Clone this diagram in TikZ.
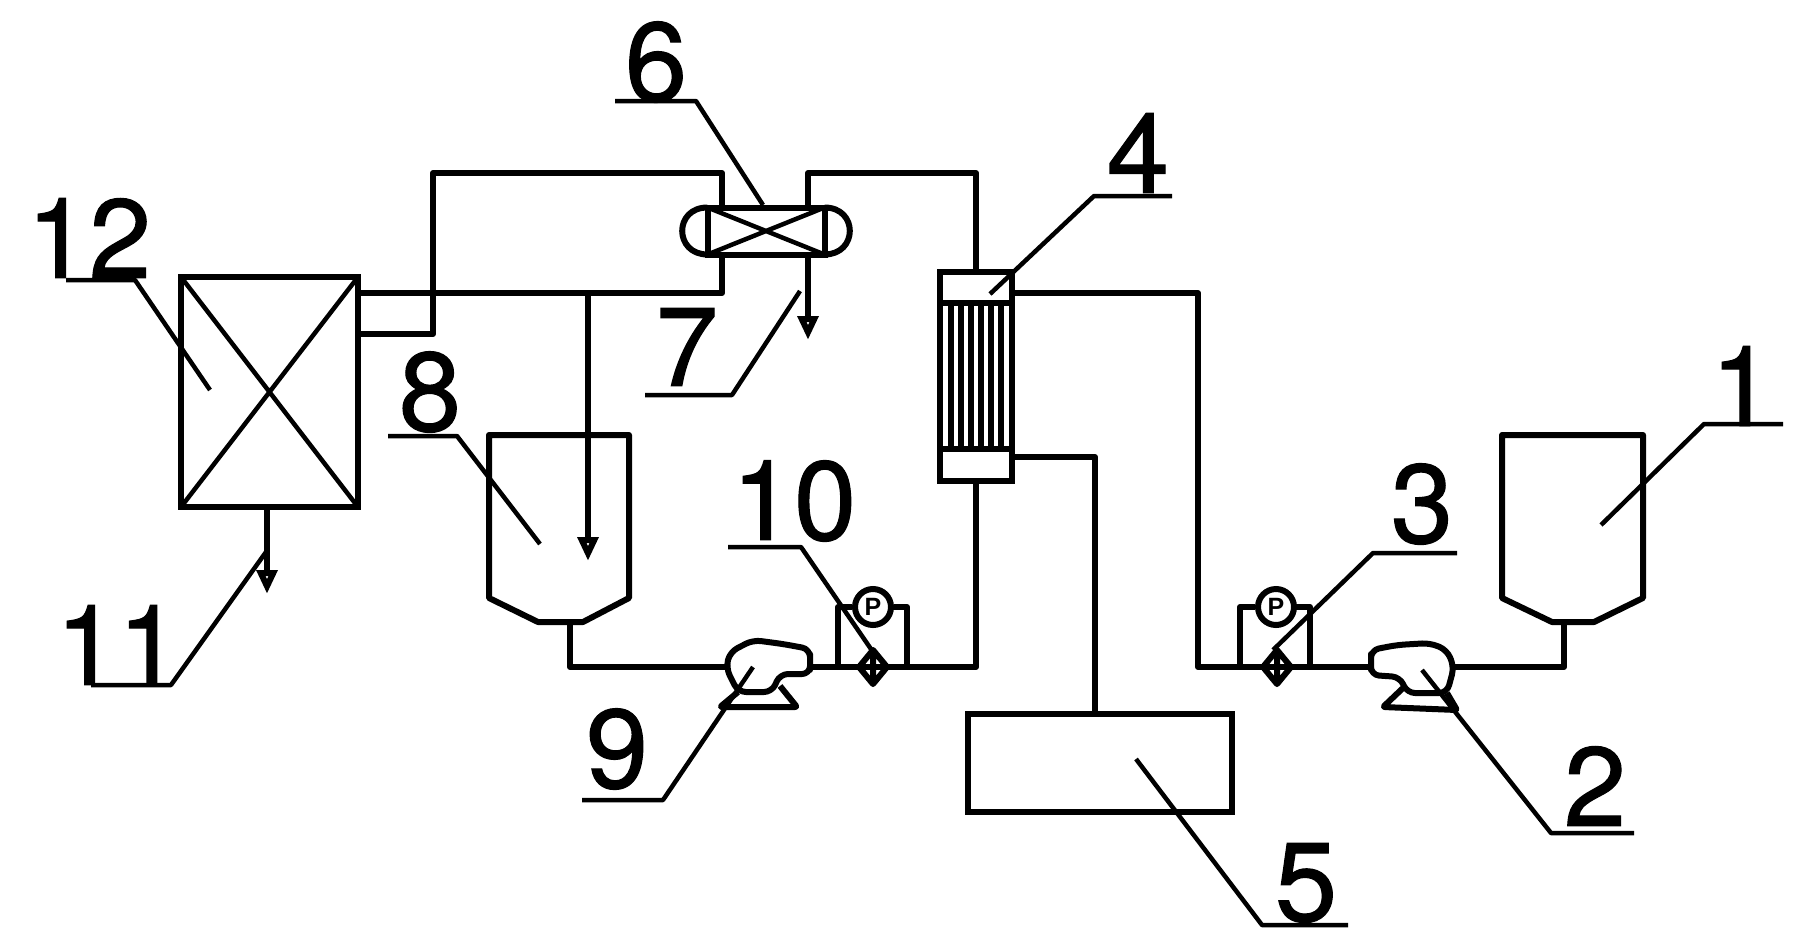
\documentclass[tikz,border=0pt]{standalone}
\usepackage{fontspec}
\setmainfont{Liberation Sans}
\newfontfamily\numfont[FakeBold=1]{TeX Gyre Heros}
\usetikzlibrary{arrows.meta}

\begin{document}
\begin{tikzpicture}[x=1pt,y=-1pt]
	\tikzstyle{pipe}=[line width=6pt,line join=round]
	\tikzstyle{leader}=[line width=4.5pt,line join=round]
	\tikzstyle{box}=[rectangle,draw,line width=6pt,inner sep=0pt,outer sep=0pt]
	\tikzstyle{num}=[font=\numfont\fontsize{112}{112}\selectfont,inner sep=0pt]
	\tikzstyle{drain}=[pipe,-{Triangle[open,length=24pt,width=20pt]}]
	\tikzstyle{gauge}=[circle,draw,line width=6pt,fill=white,minimum size=36pt,inner sep=0pt,font=\bfseries\fontsize{25}{25}\selectfont]
	\useasboundingbox (0,0) rectangle (1798,943);
	% equipment
	\node[box,minimum width=177pt,minimum height=230pt] (dryer) at (269.5,392) {};
	\draw[leader] (dryer.north west) -- (dryer.south east) (dryer.north east) -- (dryer.south west);
	\node[box,minimum width=117pt,minimum height=47pt] (cooler) at (766,231) {};
	\draw[leader] (cooler.north west) -- (cooler.south east) (cooler.north east) -- (cooler.south west);
	\draw[pipe] (cooler.north west) .. controls +(-34,0) and (674,254.5) .. (cooler.south west);
	\draw[pipe] (cooler.north east) .. controls +(34,0) and (858,254.5) .. (cooler.south east);
	\node[box,minimum width=72pt,minimum height=209pt] (exchanger) at (976,376.5) {};
	\draw[pipe] (940,303) -- (1012,303) (940,449) -- (1012,449);
	\foreach \tubex in {951,961,971,981,991,1001}
		\draw[line width=5.5pt] (\tubex,303) -- (\tubex,449);
	\node[box,minimum width=264pt,minimum height=98pt] (store) at (1100,763) {};
	\draw[pipe] (489,435) -- (629,435) -- (629,598) -- (583,622) -- (538,622) -- (489,598) -- cycle;
	\draw[pipe] (1502,435) -- (1643,435) -- (1643,598) -- (1594,622) -- (1552,622) -- (1502,598) -- cycle;
	% pumps
	\draw[pipe,rounded corners=8pt] (810,662) -- (810,674) -- (780,674) -- (772,692) -- (738,692) -- (726,668) -- (730,652) -- (753,640) -- (783,644) -- (810,649) -- cycle;
	\draw[pipe,rounded corners=2pt] (780,686) -- (797,707) -- (720,707) -- (738,692);
	\draw[pipe,rounded corners=8pt] (1371,662) -- (1371,675) -- (1400,677) -- (1407,693) -- (1447,693) -- (1454,667) -- (1447,650) -- (1430,643) -- (1397,645) -- (1371,650) -- cycle;
	\draw[pipe,rounded corners=2pt] (1403,688) -- (1383,707) -- (1457,710) -- (1447,693);
	% valves
	\node[gauge] (gaugeA) at (873,607) {P};
	\node[gauge] (gaugeB) at (1276,607) {P};
	\draw[pipe] (838,667) |- (gaugeA.west) (gaugeA.east) -| (907,667);
	\draw[pipe] (1240,667) |- (gaugeB.west) (gaugeB.east) -| (1310,667);
	\draw[pipe] (859,667) -- (873,650) -- (887,667) -- (873,684) -- cycle (873,650) -- (873,684);
	\draw[pipe] (1263,667) -- (1277,650) -- (1291,667) -- (1277,684) -- cycle (1277,650) -- (1277,684);
	% pipes
	\draw[pipe] (358,293) -- (722,293) -- (722,254.5);
	\draw[pipe] (358,334) -- (433,334) -- (433,173) -- (722,173) -- (722,207.5);
	\draw[pipe] (808,207.5) -- (808,173) -- (976,173) -- (exchanger.north);
	\draw[drain] (808,254.5) -- (808,340);
	\draw[drain] (588,293) -- (588,561);
	\draw[drain] (267,507) -- (267,594);
	\draw[pipe] (exchanger.south) -- (976,667) -- (810,667);
	\draw[pipe] (726,667) -- (570,667) -- (570,622);
	\draw[pipe] (1012,293) -- (1198,293) -- (1198,667) -- (1371,667);
	\draw[pipe] (1012,457) -- (1095,457) -- (1095,714);
	\draw[pipe] (1454,667) -- (1564,667) -- (1564,622);
	% labels
	\node[num] (labelOne) at (1742,386) {1};
	\node[num] (labelTwo) at (1595,786) {2};
	\node[num] (labelThree) at (1422,504) {3};
	\node[num] (labelFour) at (1138,153) {4};
	\node[num] (labelFive) at (1306,883) {5};
	\node[num] (labelSix) at (656,62) {6};
	\node[num] (labelSeven) at (687,347) {7};
	\node[num] (labelEight) at (430,392) {8};
	\node[num] (labelNine) at (617,749) {9};
	\node[num] (labelTen) at (794,501) {10};
	\node[num] (labelEleven) at (118,645) {11};
	\node[num] (labelTwelve) at (89,238) {12};
	% leaders
	\draw[leader] (1783,424) -- (1704,424) -- (1601,525);
	\draw[leader] (1634,833) -- (1551,833) -- (1422,670);
	\draw[leader] (1457,553) -- (1373,553) -- (1273,650);
	\draw[leader] (1172,196) -- (1094,196) -- (990,294);
	\draw[leader] (1348,925) -- (1262,925) -- (1136,759);
	\draw[leader] (615,101) -- (696,101) -- (763,205);
	\draw[leader] (645,395) -- (732,395) -- (800,291);
	\draw[leader] (388,436) -- (457,436) -- (540,544);
	\draw[leader] (582,800) -- (663,800) -- (753,667);
	\draw[leader] (728,547) -- (801,547) -- (873,652);
	\draw[leader] (91,685) -- (171,685) -- (266,552);
	\draw[leader] (66,280) -- (135,280) -- (210,390);
\end{tikzpicture}
\end{document}
